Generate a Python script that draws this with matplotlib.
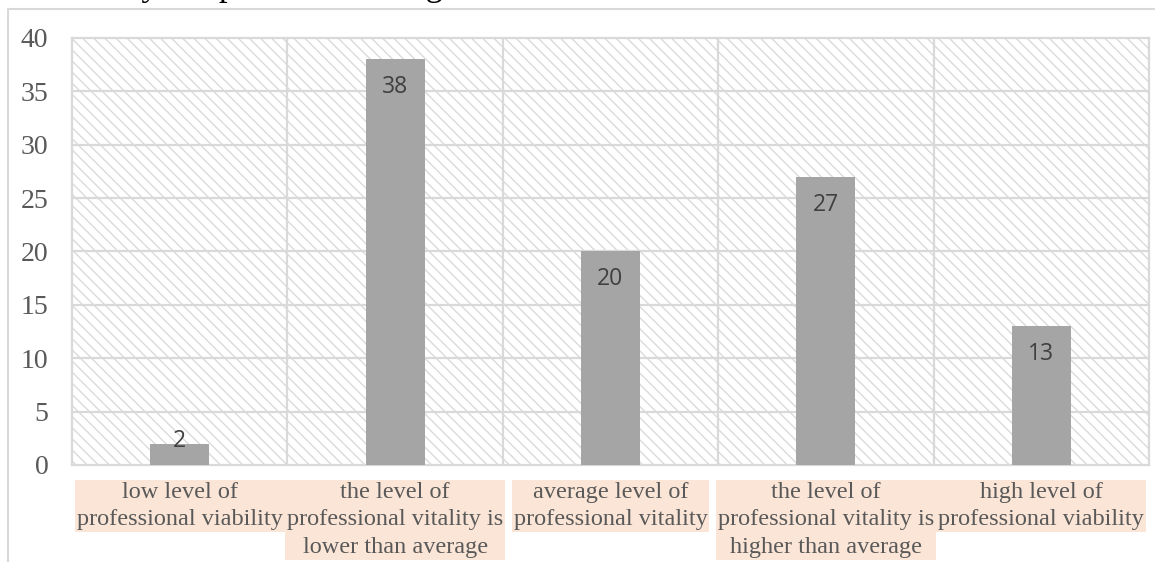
import matplotlib.pyplot as plt
from matplotlib.patches import Rectangle
from matplotlib.lines import Line2D

categories = [
    "low level of\nprofessional viability",
    "the level of\nprofessional vitality is\nlower than average",
    "average level of\nprofessional vitality",
    "the level of\nprofessional vitality is\nhigher than average",
    "high level of\nprofessional viability",
]
values = [2, 38, 20, 27, 13]
yticks = [0, 5, 10, 15, 20, 25, 30, 35, 40]

W, H = 1155, 562
GRID = "#d9d9d9"
TEXT = "#595959"

fig = plt.figure(figsize=(W / 100, H / 100), dpi=100)

# leftover line of body text above the chart
fig.text(0, (H + 5) / H, "statistically are presented in Fig. 1",
         family="Liberation Serif", fontsize=25, color="black",
         ha="left", va="baseline")

# outer chart frame (top and left edges visible)
fig.add_artist(Line2D([7.5 / W, 7.5 / W, 1.0], [0, (H - 9) / H, (H - 9) / H],
                      transform=fig.transFigure, color=GRID, lw=1.5))

ax = fig.add_axes([72 / W, (H - 465) / H, (1149 - 72) / W, (465 - 38) / H])
ax.patch.set_visible(False)

# hatched plot area background
plt.rcParams["hatch.linewidth"] = 1.0
bg = Rectangle((0, 0), 1, 1, transform=ax.transAxes, facecolor="white",
               edgecolor="#dadada", hatch="\\\\\\", lw=0, zorder=0)
ax.add_patch(bg)

x = list(range(len(values)))
ax.bar(x, values, width=0.274, color="#a5a5a5", zorder=3)

ax.set_xlim(-0.5, len(values) - 0.5)
ax.set_ylim(0, 40)
ax.set_yticks(yticks)
ax.set_yticklabels([str(t) for t in yticks], family="Liberation Serif",
                   fontsize=20, color=TEXT)
ax.tick_params(axis="y", length=0, pad=17)
ax.set_xticks([])

for t in yticks[1:-1]:
    ax.axhline(t, color=GRID, lw=1.6, zorder=1)
for b in range(1, len(values)):
    ax.axvline(b - 0.5, color=GRID, lw=1.6, zorder=1)
for s in ax.spines.values():
    s.set_color(GRID)
    s.set_linewidth(1.6)

# value labels inside the bar ends
for i, v in enumerate(values):
    off = -28 if v > 5 else 2.5
    ax.annotate(str(v), xy=(i, v), xytext=(0, off), textcoords="offset pixels",
                ha="center", va="center", family="Open Sans", fontsize=16.5,
                color="#404040", zorder=4)

# category labels on shaded boxes
for i, lab in enumerate(categories):
    ax.annotate(lab, xy=(i, 0), xycoords=("data", "axes fraction"),
                xytext=(0, -17), textcoords="offset pixels",
                ha="center", va="top", multialignment="center",
                family="Liberation Serif", fontsize=17.5, color=TEXT,
                linespacing=1.4, annotation_clip=False,
                bbox=dict(boxstyle="square,pad=0.08", fc="#fbe5d6", ec="none"))

fig.savefig("out.png", dpi=100)
